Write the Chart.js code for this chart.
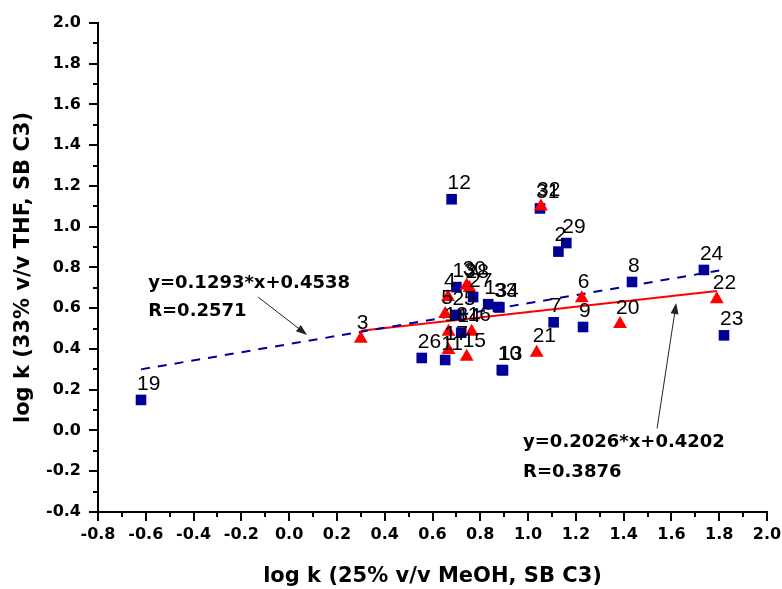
<!DOCTYPE html>
<html><head><meta charset="utf-8">
<script src="https://cdn.jsdelivr.net/npm/chart.js@4.4.0/dist/chart.umd.min.js"></script>
<style>html,body{margin:0;padding:0;background:#fff;}#wrap{width:782px;height:589px;}</style>
</head><body><div id="wrap"><canvas id="c" width="782" height="589"></canvas></div>
<script>
// Blue squares
const squareLabels = ["19","12","31","2","29","24","8","7","9","23","10","13","26","11","13","27","1","33","34","25","14"];
const squareX = [-0.62,0.68,1.05,1.127,1.16,1.736,1.435,1.107,1.23,1.82,0.89,0.895,0.555,0.653,0.70,0.77,0.833,0.874,0.880,0.70,0.72];
const squareY = [0.15,1.135,1.09,0.878,0.92,0.788,0.729,0.531,0.508,0.467,0.297,0.295,0.356,0.346,0.704,0.655,0.62,0.606,0.604,0.567,0.48];
// Red triangles
const triLabels = ["3","32","6","20","22","21","4","30","28","5","18","16","17","15"];
const triX = [0.30,1.054,1.225,1.385,1.79,1.036,0.665,0.743,0.755,0.653,0.667,0.764,0.667,0.743];
const triY = [0.45,1.10,0.649,0.523,0.644,0.382,0.655,0.712,0.70,0.572,0.485,0.485,0.395,0.362];
// Fit lines (read endpoints)
const blueFitX = [-0.62,1.80];
const blueFitY = [0.30,0.785];
const redFitX = [0.30,1.79];
const redFitY = [0.49,0.685];
// Axis ticks
const xTickMin = -0.8, xTickMax = 2.0, yTickMin = -0.4, yTickMax = 2.0;
// Annotations (text and arrows, data coords)
const noteTexts = ["y=0.1293*x+0.4538","R=0.2571","y=0.2026*x+0.4202","R=0.3876"];
const noteX = [-0.59,-0.59,0.979,0.979];
const noteY = [0.724,0.587,-0.056,-0.204];
const arrowFrom = [[-0.13,0.655],[1.54,0.01]];
const arrowTo = [[0.075,0.469],[1.62,0.626]];

const toPts = (xs,ys)=>xs.map((x,i)=>({x:x,y:ys[i]}));
const fmt = v => (Math.abs(v)<1e-9?0:v).toFixed(1);

const labelPlugin = {
  id:'ptLabels',
  afterDatasetsDraw(chart){
    const ctx = chart.ctx;
    ctx.save();
    ctx.font = '21px "Liberation Sans", Arial, sans-serif';
    ctx.fillStyle = '#000';
    ctx.textBaseline = 'middle';
    ctx.textAlign = 'left';
    chart.data.datasets.forEach((ds,i)=>{
      if(!ds.pointLabels) return;
      chart.getDatasetMeta(i).data.forEach((el,j)=>{
        ctx.fillText(ds.pointLabels[j], el.x-4, el.y-16);
      });
    });
    const xs = chart.scales.x, ys = chart.scales.y;
    ctx.font = 'bold 18px "DejaVu Sans", sans-serif';
    noteTexts.forEach((t,i)=>{
      ctx.fillText(t, xs.getPixelForValue(noteX[i]), ys.getPixelForValue(noteY[i]));
    });
    ctx.strokeStyle = '#222'; ctx.fillStyle = '#222'; ctx.lineWidth = 1;
    arrowFrom.forEach((f,i)=>{
      const x1 = xs.getPixelForValue(f[0]), y1 = ys.getPixelForValue(f[1]);
      const x2 = xs.getPixelForValue(arrowTo[i][0]), y2 = ys.getPixelForValue(arrowTo[i][1]);
      const a = Math.atan2(y2-y1,x2-x1);
      ctx.beginPath(); ctx.moveTo(x1,y1); ctx.lineTo(x2-Math.cos(a)*8,y2-Math.sin(a)*8); ctx.stroke();
      ctx.beginPath();
      ctx.moveTo(x2,y2);
      ctx.lineTo(x2-Math.cos(a)*11+Math.sin(a)*4, y2-Math.sin(a)*11-Math.cos(a)*4);
      ctx.lineTo(x2-Math.cos(a)*11-Math.sin(a)*4, y2-Math.sin(a)*11+Math.cos(a)*4);
      ctx.closePath(); ctx.fill();
    });
    ctx.restore();
  }
};

const tickPlugin = {
  id:'minorTicks',
  afterDraw(chart){
    const ctx = chart.ctx, xs = chart.scales.x, ys = chart.scales.y;
    ctx.save();
    ctx.strokeStyle = '#000'; ctx.lineWidth = 2;
    const nx = Math.round((xTickMax-xTickMin)/0.1);
    for(let i=0;i<=nx;i++){
      const px = Math.round(xs.getPixelForValue(xTickMin+i*0.1));
      const len = i%2===0?9:5;
      ctx.beginPath(); ctx.moveTo(px, xs.top); ctx.lineTo(px, xs.top+len); ctx.stroke();
    }
    const ny = Math.round((yTickMax-yTickMin)/0.1);
    for(let i=0;i<=ny;i++){
      const py = Math.round(ys.getPixelForValue(yTickMin+i*0.1));
      const len = i%2===0?9:5;
      ctx.beginPath(); ctx.moveTo(ys.right-len, py); ctx.lineTo(ys.right, py); ctx.stroke();
    }
    ctx.restore();
  }
};

new Chart(document.getElementById('c'), {
  type:'scatter',
  data:{datasets:[
    {label:'tri', data:toPts(triX,triY), pointLabels:triLabels, pointStyle:'triangle', pointRadius:8, pointHoverRadius:8,
     backgroundColor:'#ff0000', borderColor:'#ff0000', borderWidth:0, order:1},
    {label:'sq', data:toPts(squareX,squareY), pointLabels:squareLabels, pointStyle:'rect', pointRadius:7.5, pointHoverRadius:7.5,
     backgroundColor:'#000099', borderColor:'#000099', borderWidth:0, order:2},
    {label:'fitBlue', data:toPts(blueFitX,blueFitY), showLine:true, pointRadius:0, borderColor:'#000099', borderWidth:2, borderDash:[9,8], order:3},
    {label:'fitRed', data:toPts(redFitX,redFitY), showLine:true, pointRadius:0, borderColor:'#ff0000', borderWidth:2, order:3}
  ]},
  options:{
    responsive:false, animation:false,
    layout:{padding:0},
    plugins:{legend:{display:false}, tooltip:{enabled:false}},
    scales:{
      x:{type:'linear', min:xTickMin, max:xTickMax,
        afterFit(s){s.height=77; s.paddingRight=15; s.paddingLeft=0;},
        border:{display:true,color:'#000',width:2},
        grid:{display:true,drawOnChartArea:false,drawTicks:false},
        ticks:{stepSize:0.2, padding:13, color:'#000', callback:fmt, font:{family:'"DejaVu Sans", sans-serif', weight:'bold', size:16}, maxRotation:0},
        title:{display:true, text:'log k (25% v/v MeOH, SB C3)', color:'#000', font:{family:'"DejaVu Sans", sans-serif', weight:'bold', size:21}, padding:{top:0,bottom:0}}
      },
      y:{type:'linear', min:yTickMin, max:yTickMax,
        afterFit(s){s.width=98; s.paddingTop=23; s.paddingBottom=0;},
        border:{display:true,color:'#000',width:2},
        grid:{display:true,drawOnChartArea:false,drawTicks:false},
        ticks:{stepSize:0.2, padding:17, color:'#000', callback:fmt, font:{family:'"DejaVu Sans", sans-serif', weight:'bold', size:16}},
        title:{display:true, text:'log k (33% v/v THF, SB C3)', color:'#000', font:{family:'"DejaVu Sans", sans-serif', weight:'bold', size:21}, padding:{top:11,bottom:0}}
      }
    }
  },
  plugins:[labelPlugin,tickPlugin]
});
</script></body></html>
